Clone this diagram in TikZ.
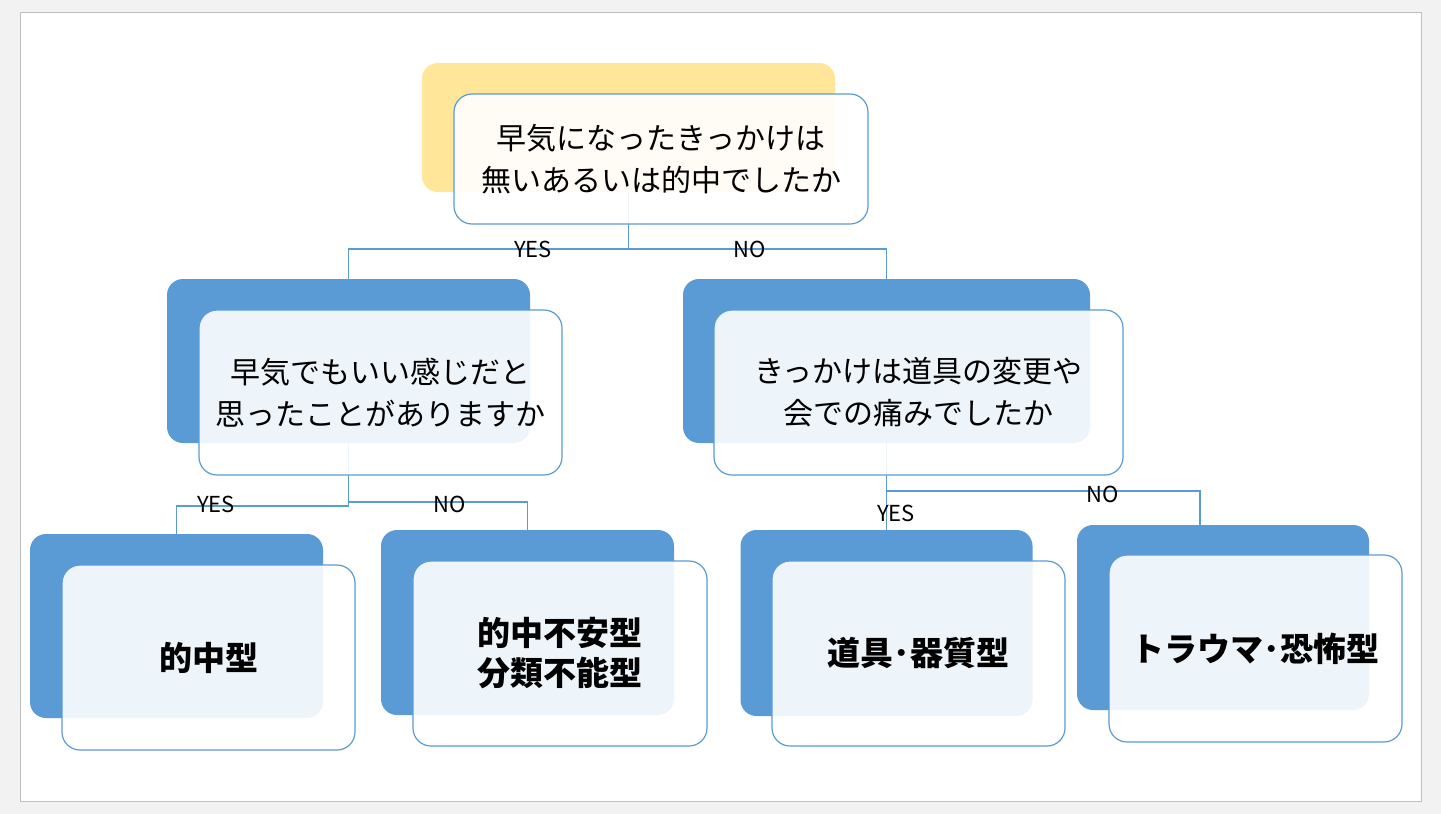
\documentclass[tikz,border=0pt]{standalone}
\usepackage{fontspec}
\setmainfont{Noto Sans CJK JP}
\definecolor{qblue}{HTML}{5B9BD5}
\definecolor{qyellow}{HTML}{FFE699}
\definecolor{pagegray}{HTML}{F2F2F2}
\definecolor{rimgray}{HTML}{BFBFBF}
\tikzset{
  backbox/.style={rectangle, rounded corners=8pt, fill=qblue, inner sep=0pt},
  frontbox/.style={rectangle, rounded corners=9pt, draw=qblue, line width=0.6pt, fill=white, fill opacity=0.9, text opacity=1, inner sep=0pt, align=center, font=\fontsize{15}{21}\selectfont},
  endbox/.style={frontbox, font=\fontsize{16.5}{20}\selectfont\bfseries},
  link/.style={draw=qblue, line width=0.6pt},
  answer/.style={font=\fontsize{11}{13}\selectfont, inner sep=0pt}
}
\begin{document}
\begin{tikzpicture}[x=0.5pt, y=-0.5pt]
  \fill[pagegray] (0,0) rectangle (1441,814);
  \draw[rimgray, fill=white] (20,12) rectangle (1421,801);
  % back boxes
  \node[backbox, fill=qyellow, minimum width=206.5pt, minimum height=64.5pt] (qtopB) at (628.5,127.5) {};
  \node[backbox, minimum width=181.5pt, minimum height=82pt] (qleftB) at (348.5,361) {};
  \node[backbox, minimum width=203.5pt, minimum height=82pt] (qrightB) at (886.5,361) {};
  \node[backbox, minimum width=146.5pt, minimum height=92pt] (ahitB) at (176.5,626) {};
  \node[backbox, minimum width=146.5pt, minimum height=92.5pt] (aanxB) at (527.5,622.5) {};
  \node[backbox, minimum width=146pt, minimum height=93pt] (atoolB) at (886.5,623) {};
  \node[backbox, minimum width=146pt, minimum height=92.5pt] (afearB) at (1223,617.5) {};
  % connectors
  \coordinate (j1) at (628.5,249);
  \draw[link] (qtopB.south) -- (j1) -| (qleftB.north);
  \draw[link] (j1) -| (qrightB.north);
  \coordinate (j2) at (348.5,506);
  \coordinate (j2n) at (348.5,502);
  \draw[link] (qleftB.south) -- (j2) -| (ahitB.north);
  \draw[link] (j2n) -| (aanxB.north);
  \coordinate (j3) at (886.5,491);
  \coordinate (afearT) at (1200,525);
  \draw[link] (qrightB.south) -- (atoolB.north);
  \draw[link] (j3) -| (afearT);
  % front boxes
  \node[frontbox, minimum width=207pt, minimum height=65pt] (qtop) at (661,159) {早気になったきっかけは\\無いあるいは的中でしたか};
  \node[frontbox, minimum width=181.5pt, minimum height=82.5pt] (qleft) at (380.5,392.5) {早気でもいい感じだと\\思ったことがありますか};
  \node[frontbox, minimum width=204.5pt, minimum height=82.5pt] (qright) at (918.5,392.5) {きっかけは道具の変更や\\会での痛みでしたか};
  \node[endbox, minimum width=146.5pt, minimum height=92.5pt] (ahit) at (208.5,657.5) {的中型};
  \node[endbox, minimum width=147pt, minimum height=92.5pt] (aanx) at (560,653.5) {的中不安型\\分類不能型};
  \node[endbox, minimum width=146.5pt, minimum height=92.5pt] (atool) at (918.5,653.5) {道具･器質型};
  \node[endbox, minimum width=146.5pt, minimum height=93.5pt] (afear) at (1255.5,648.5) {トラウマ･恐怖型};
  % answers
  \node[answer] (yes1) at (533,249) {YES};
  \node[answer] (no1) at (750,249) {NO};
  \node[answer] (yes2) at (216,504) {YES};
  \node[answer] (no2) at (450,504) {NO};
  \node[answer] (yes3) at (896,513) {YES};
  \node[answer] (no3) at (1103,494) {NO};
\end{tikzpicture}
\end{document}
